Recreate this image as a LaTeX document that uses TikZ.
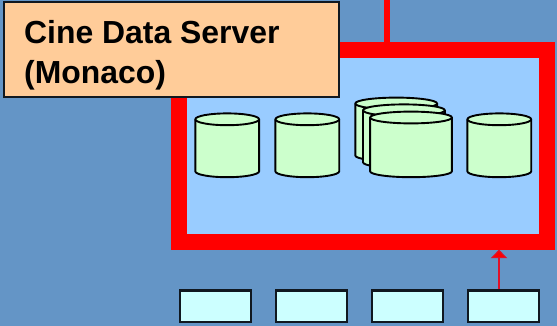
\documentclass[tikz,border=0pt]{standalone}
\usepackage{fontspec}
\setmainfont{Liberation Sans}
\usetikzlibrary{arrows.meta,calc}
\definecolor{bgblue}{HTML}{6495C6}
\definecolor{panel}{HTML}{99CCFF}
\definecolor{disk}{HTML}{CCFFCC}
\definecolor{client}{HTML}{CCFFFF}
\definecolor{title}{HTML}{FFCC99}
\definecolor{edge}{HTML}{101820}
% #1 centre x, #2 y of the top ellipse centre, #3 y of the bottom ellipse centre, #4 x radius
\newcommand{\diskdraw}[4]{%
  \draw[diskshape] (#1-#4,#2) -- (#1-#4,#3) arc[start angle=180,end angle=360,x radius=#4 pt,y radius=5.9pt]
     -- (#1+#4,#2) arc[start angle=0,end angle=180,x radius=#4 pt,y radius=5.9pt] -- cycle;
  \draw[diskshape,fill=none] (#1-#4,#2) arc[start angle=180,end angle=360,x radius=#4 pt,y radius=5.9pt];
}
\tikzset{
  x=1pt,y=-1pt,
  frame/.style={draw=red,fill=panel,line width=16pt,minimum width=368pt,minimum height=192pt,inner sep=0pt,anchor=north west},
  diskshape/.style={draw=black,fill=disk,line width=1.9pt},
  clientbox/.style={draw=edge,fill=client,line width=2.2pt,minimum width=70.8pt,minimum height=31.3pt,inner sep=0pt,anchor=north west},
  titlebox/.style={draw=edge,fill=title,line width=2pt,minimum width=335.7pt,minimum height=95.2pt,inner sep=0pt,anchor=north west},
  titletext/.style={font=\fontsize{31.9}{39.3}\selectfont\bfseries,align=left,anchor=north west,inner sep=0pt},
  feedline/.style={draw=red,line width=5.7pt},
  link/.style={draw={rgb,255:red,224;green,16;blue,40},line width=1.2pt,-{Triangle[length=8.5pt,width=16.5pt,fill=red]}}
}
\begin{document}
\begin{tikzpicture}
\fill[bgblue] (0,0) rectangle (557,326);
\useasboundingbox (0,0) rectangle (557,326);
\node[frame] (server) at (171,41.7) {};
\coordinate (feedtop) at (387.3,0);
\draw[feedline] (feedtop) -- (feedtop |- server.north);
\diskdraw{227.2}{119.3}{171.3}{31.9}
\diskdraw{307.3}{119.3}{171.3}{31.9}
\diskdraw{396.2}{103.5}{155.5}{40.9}
\diskdraw{403.9}{110.3}{162.3}{40.9}
\diskdraw{411}{117.5}{171.3}{40.9}
\diskdraw{499.3}{119.3}{171.3}{31.9}
\node[clientbox] (c1) at (179,289.3) {};
\node[clientbox] (c2) at (275,289.3) {};
\node[clientbox] (c3) at (371,289.3) {};
\node[clientbox] (c4) at (467,289.3) {};
\coordinate (linkstart) at (499,289.3);
\draw[link] (linkstart) -- (linkstart |- server.south);
\node[titlebox] (title) at (2.7,1) {};
\node[titletext] (label) at (24,20.5) {Cine Data Server\\(Monaco)};
\end{tikzpicture}
\end{document}
